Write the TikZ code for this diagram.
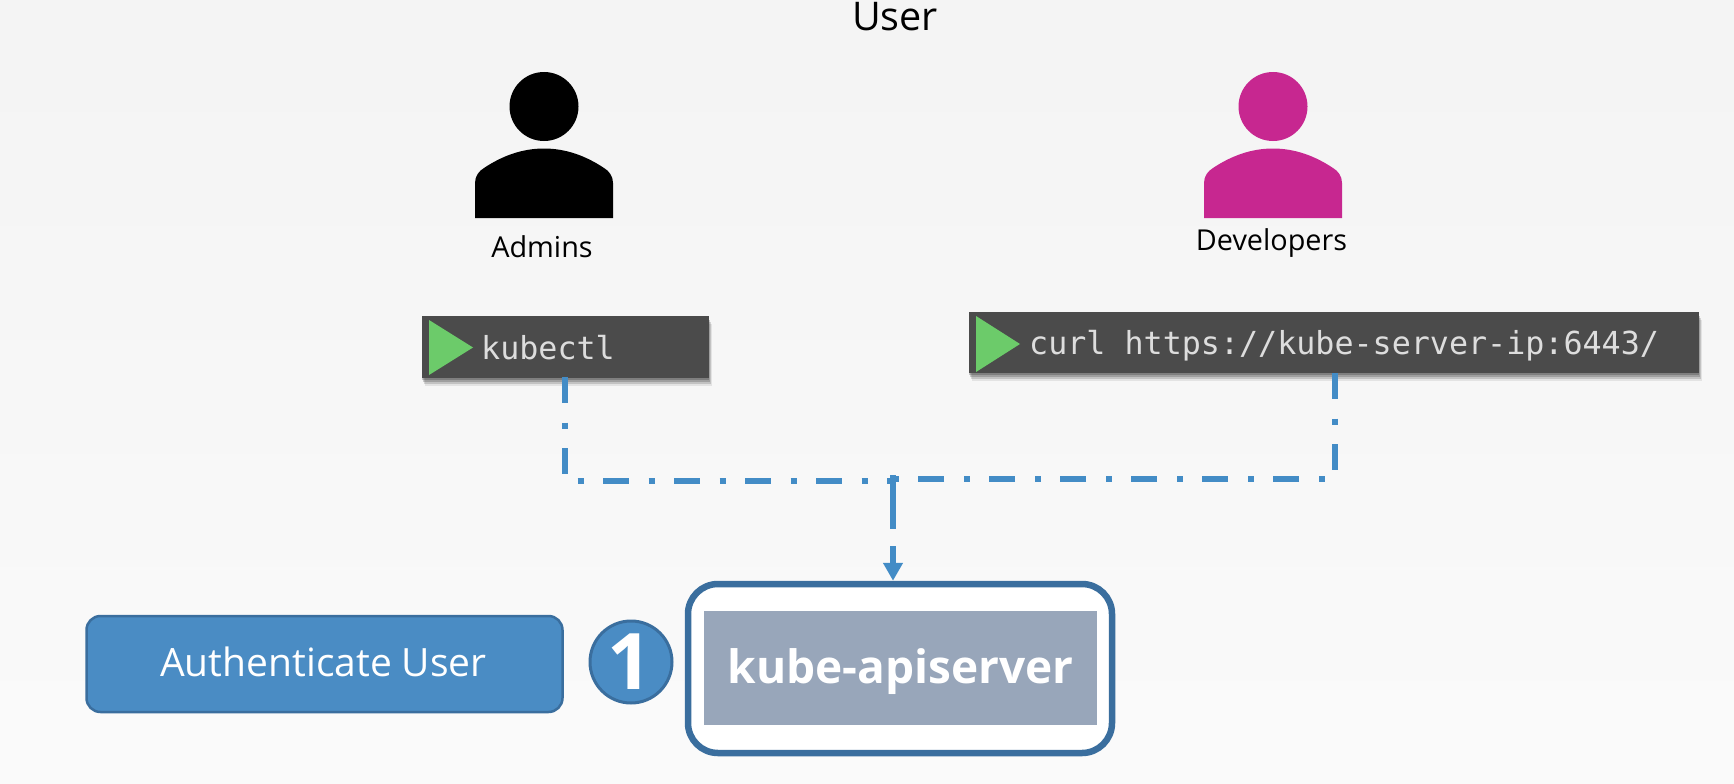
\documentclass[tikz,border=0pt]{standalone}
\usepackage{fontspec}
\setmainfont{Open Sans}
\newfontfamily\monof{DejaVu Sans Mono}
\usetikzlibrary{arrows.meta,shadows,calc}
\definecolor{flowblue}{HTML}{438CC6}
\definecolor{termgray}{HTML}{4B4B4B}
\definecolor{termtext}{HTML}{DDDDDD}
\definecolor{playgreen}{HTML}{6CCB6A}
\definecolor{authblue}{HTML}{4A8CC4}
\definecolor{apiedge}{HTML}{3A6E9E}
\definecolor{apifill}{HTML}{98A6BA}
\definecolor{devpink}{HTML}{C72790}
\newcommand{\fsz}[1]{\fontsize{#1}{#1}\selectfont}
\tikzset{
  terminal/.style={fill=termgray,inner sep=0pt,anchor=north west,
    drop shadow={shadow xshift=3pt,shadow yshift=-8pt,opacity=.08,fill=black},
    drop shadow={shadow xshift=2pt,shadow yshift=-6pt,opacity=.14,fill=black},
    drop shadow={shadow xshift=1pt,shadow yshift=-4pt,opacity=.18,fill=black},
    drop shadow={shadow xshift=0pt,shadow yshift=-2pt,opacity=.2,fill=black}},
  termlabel/.style={anchor=base west,inner sep=0pt,text=termtext,font=\monof\fsz{31.7}},
  playtri/.style={fill=playgreen},
  flow/.style={draw=flowblue,line width=6.6pt,dash pattern=on 26pt off 19.5pt on 6pt off 19.5pt},
  caption/.style={anchor=base,inner sep=0pt,font=\fsz{28.8}},
  person/.pic={
    \fill (0,-111.5) circle [radius=34.5];
    \fill (-69,0) -- (-69,-35) .. controls (-69,-42) and (-65,-47) .. (-60,-50)
      .. controls (-42,-62) and (-22,-69.5) .. (0,-69.5)
      .. controls (22,-69.5) and (42,-62) .. (60,-50)
      .. controls (65,-47) and (69,-42) .. (69,-35) -- (69,0) -- cycle;
  }
}
\begin{document}
\begin{tikzpicture}[x=1pt,y=-1pt]
\useasboundingbox (0,0) rectangle (1734,784);
\shade[top color=black!4.5,bottom color=black!1.8] (0,0) rectangle (1734,784);
\node[anchor=base,inner sep=0pt,font=\fsz{39.5}] (title) at (895,31) {User};
% people
\pic[black] (adminfig) at (544,218) {person};
\pic[devpink] (devfig) at (1273,218) {person};
\node[caption] (admins) at (542,257) {Admins};
\node[caption] (devs) at (1271.5,250) {Developers};
% terminals
\node[terminal,minimum width=287pt,minimum height=62pt] (kubebox) at (422,316) {};
\fill[playtri] (429,320) -- (473,347.5) -- (429,375) -- cycle;
\node[termlabel] (kubetxt) at (481,359) {kubectl};
\node[terminal,minimum width=730pt,minimum height=61pt] (curlbox) at (969,312) {};
\fill[playtri] (976,316) -- (1020,344) -- (976,372) -- cycle;
\node[termlabel] (curltxt) at (1029,354) {curl https://kube-server-ip:6443/};
% api server
\node[draw=apiedge,fill=white,line width=6.5pt,rounded corners=30pt,minimum width=424pt,minimum height=169pt,inner sep=0pt] (api) at (900,668.5) {};
\node[fill=apifill,minimum width=392.5pt,minimum height=114pt,inner sep=0pt] (apiinner) at (900.25,668) {};
\node[anchor=base,inner sep=0pt,text=white,font=\bfseries\fsz{46}] (apitxt) at (900.5,683) {kube-apiserver};
% auth
\node[draw=apiedge,fill=authblue,line width=2.5pt,rounded corners=14pt,minimum width=476pt,minimum height=96pt,inner sep=0pt] (auth) at (324.5,664) {};
\node[anchor=base,inner sep=0pt,text=white,font=\fsz{39}] (authtxt) at (323.5,676) {Authenticate User};
\node[circle,draw=apiedge,fill=authblue,line width=3pt,minimum size=82pt,inner sep=0pt] (num) at (631,662) {};
\node[anchor=base,inner sep=0pt,text=white,font=\bfseries\fsz{78}] (numtxt) at (630,689) {1};
% connectors
\coordinate (lstart) at (565,377);
\coordinate (rstart) at (1335,373);
\coordinate (ljoin) at (893,481);
\coordinate (rjoin) at (893,479);
\coordinate (mid) at (893,475);
\draw[flow] (lstart) -- (lstart |- ljoin) -- (ljoin);
\draw[flow] (rstart) -- (rstart |- rjoin) -- (rjoin);
\draw[draw=flowblue,line width=6pt,dash pattern=on 54pt off 17pt on 40pt off 1pt,
  -{Triangle[length=18pt,width=19pt]}] (mid) -- (mid |- api.north);
\end{tikzpicture}
\end{document}
